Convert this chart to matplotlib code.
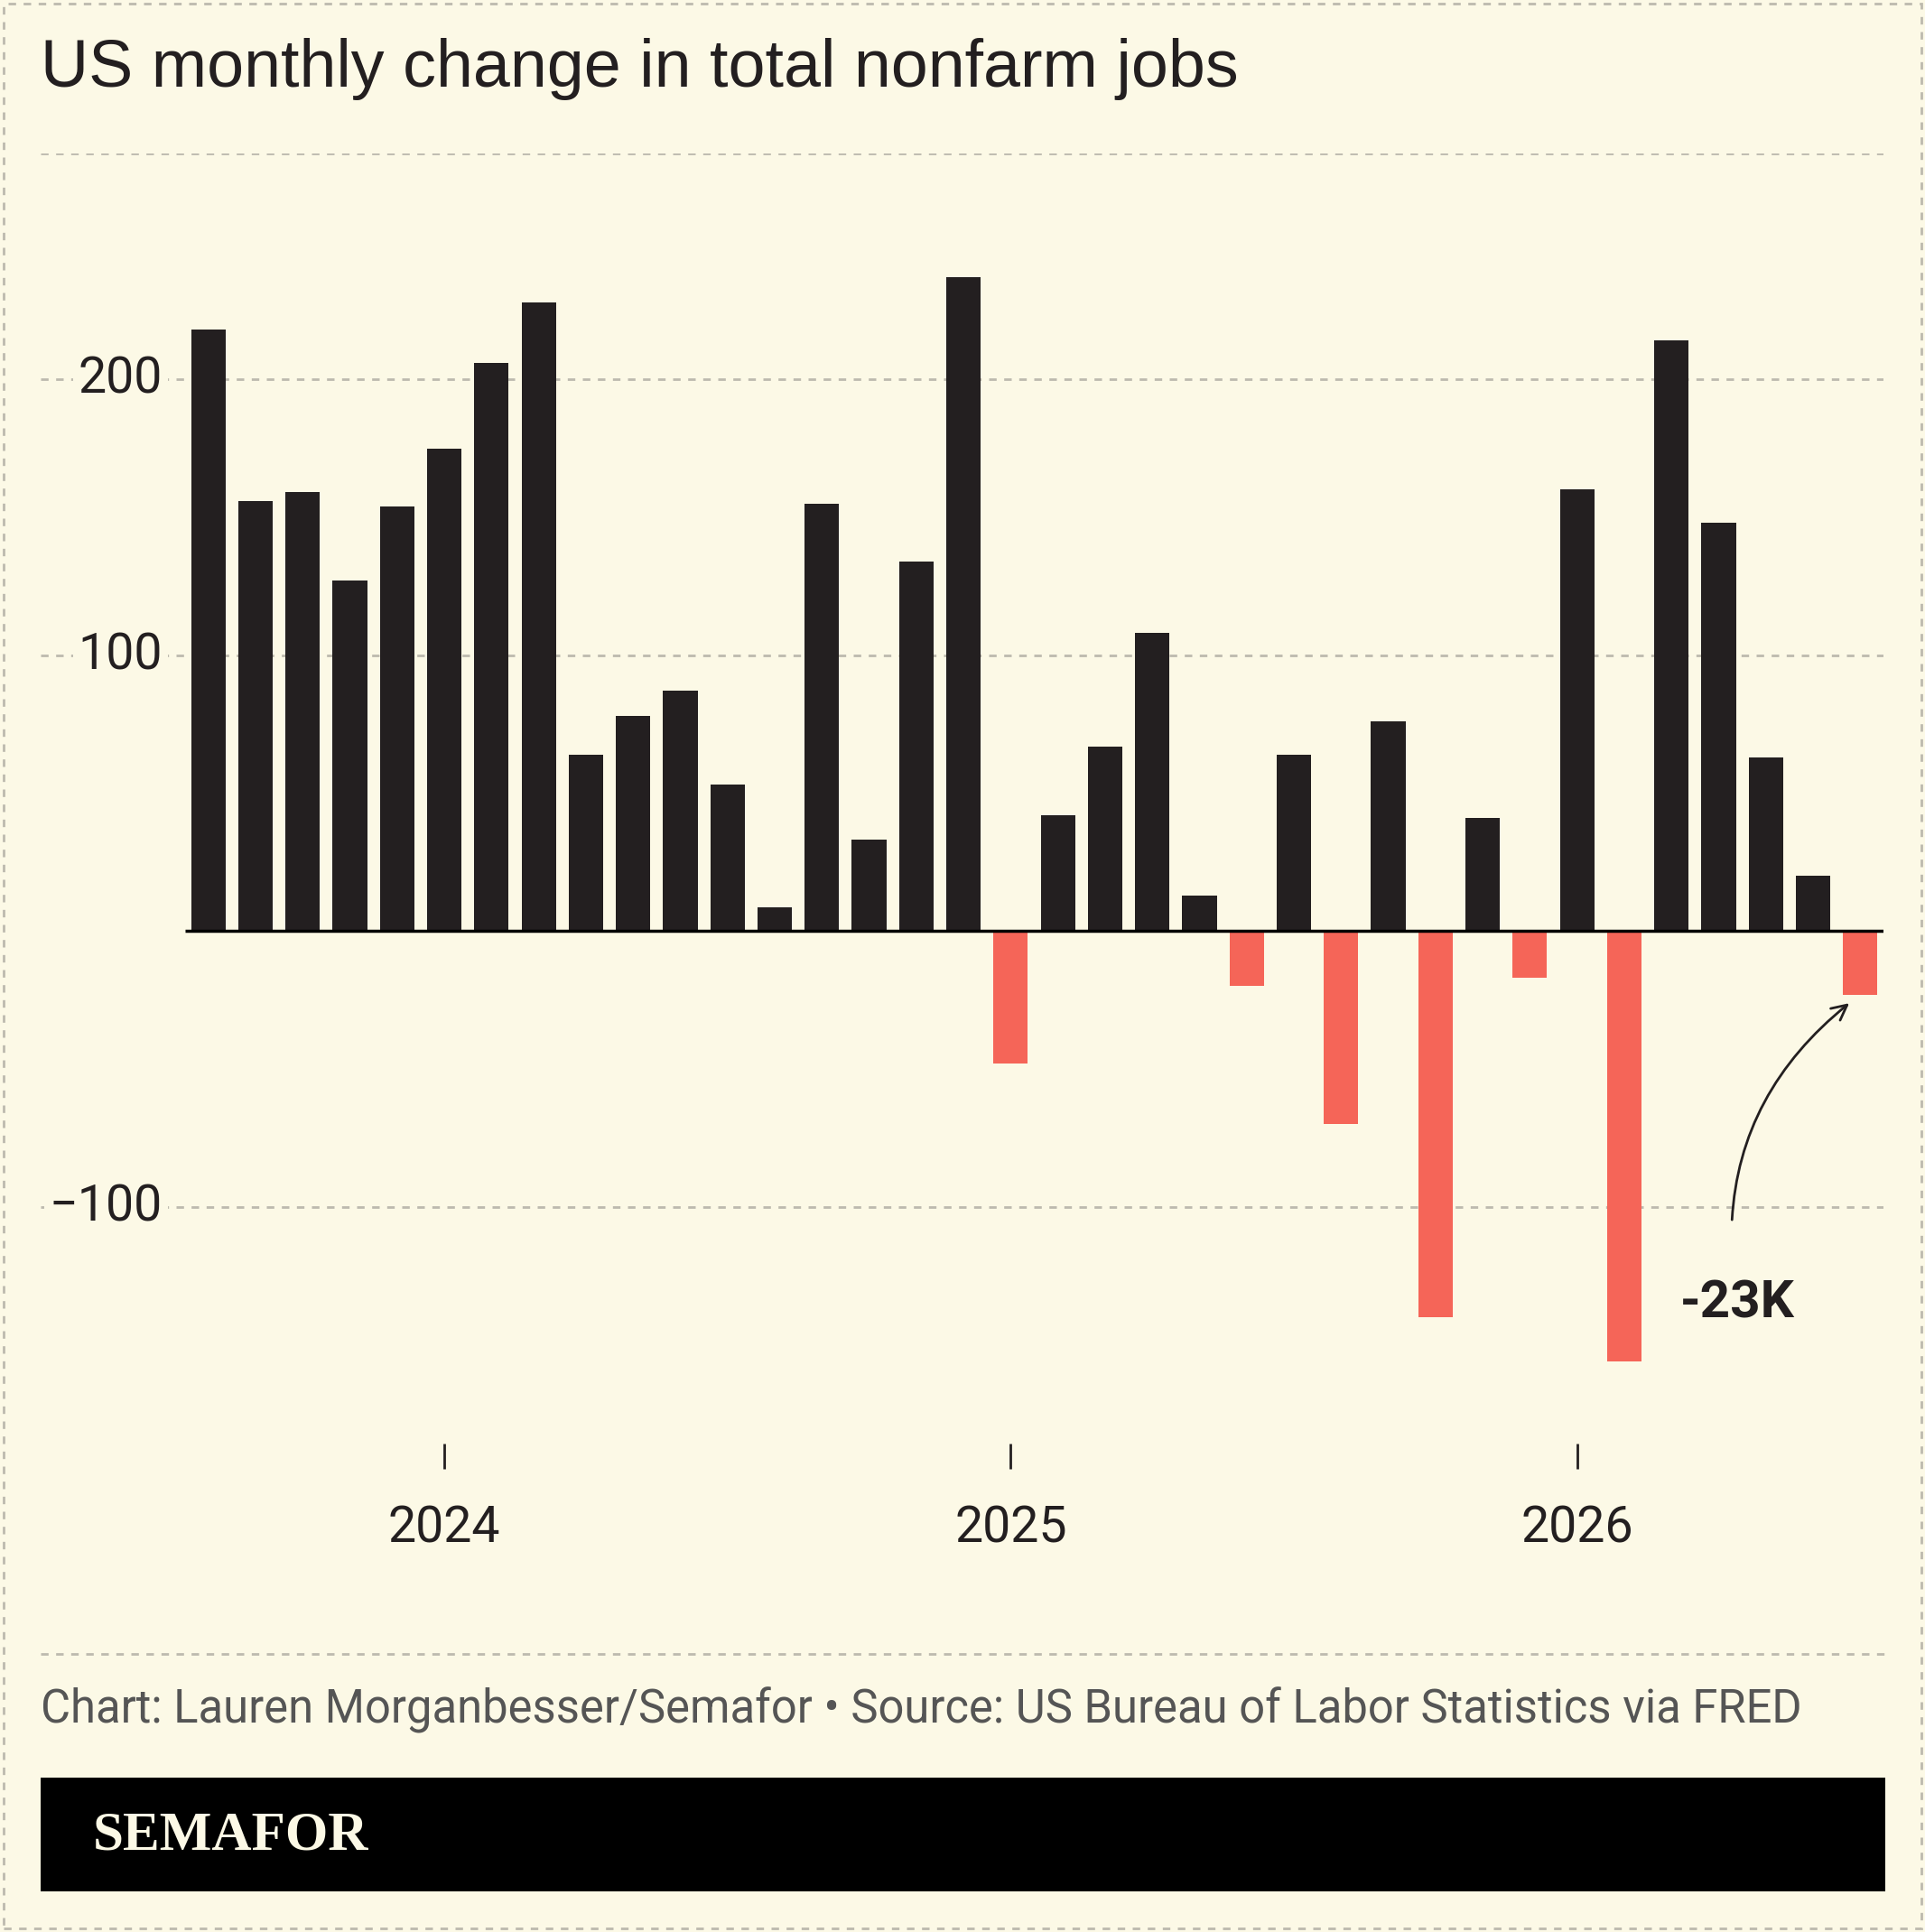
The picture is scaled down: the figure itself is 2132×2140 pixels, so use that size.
import matplotlib
matplotlib.use("Agg")
import matplotlib.pyplot as plt
from matplotlib.patches import Rectangle

months = ["2023-08","2023-09","2023-10","2023-11","2023-12","2024-01","2024-02","2024-03","2024-04","2024-05","2024-06","2024-07",
          "2024-08","2024-09","2024-10","2024-11","2024-12","2025-01","2025-02","2025-03","2025-04","2025-05","2025-06","2025-07",
          "2025-08","2025-09","2025-10","2025-11","2025-12","2026-01","2026-02","2026-03","2026-04","2026-05","2026-06","2026-07"]
values = [218,156,159,127,154,175,206,228,64,78,87,53,8.5,155,33,134,237,-48,42,67,108,13,-20,64,-70,76,-140,41,-17,160,-156,214,148,63,20,-23]
year_labels = ["2024","2025","2026"]
year_idx = [months.index(y + "-01") for y in year_labels]
ytick_vals = [200, 100, -100]

BG = "#FCF9E6"; DARK = "#231F20"; RED = "#F56558"; GRID = "#BDBAAE"
W, H = 1562, 1565
fig = plt.figure(figsize=(21.32, 21.40), dpi=100, facecolor=BG)
def fx(px): return px / W
def fy(py): return 1 - py / H

ax = fig.add_axes([fx(33), fy(1190), fx(1528) - fx(33), fy(124) - fy(1190)])
ax.set_facecolor(BG)
step = 38.3
ax.set_xlim((33 - 169) / step, (1528 - 169) / step)
ax.set_ylim(-195, 282)
for s in ax.spines.values():
    s.set_visible(False)

for v in ytick_vals + [282]:
    ax.axhline(v, color=GRID, lw=2, ls=(0, (3, 3)), zorder=0)
for v in ytick_vals:
    ax.text((132 - 169) / step, v, "−100" if v < 0 else str(v), ha="right", va="center",
            fontsize=40, family="Roboto", color=DARK,
            bbox=dict(facecolor=BG, edgecolor="none", pad=4), zorder=1)

x = list(range(len(values)))
colors = [DARK if v >= 0 else RED for v in values]
ax.bar(x, values, width=0.73, color=colors, zorder=2)
ax.hlines(0, (150 - 169) / step, (1528 - 169) / step, color="black", lw=2.5, zorder=3)

ax.set_yticks([])
ax.set_xticks(year_idx)
ax.set_xticklabels(year_labels, fontsize=40, family="Roboto", color=DARK)
ax.tick_params(axis="x", direction="in", length=20, width=2, color=DARK, pad=28)

ax.annotate("-23K", xy=(34.85, -25), xytext=(32.4, -135), fontsize=42, fontweight="bold",
            family="Roboto", color=DARK, ha="center", va="center", zorder=4,
            arrowprops=dict(arrowstyle="->", color=DARK, lw=2, mutation_scale=30,
                            connectionstyle="arc3,rad=-0.3", shrinkA=45, shrinkB=4))

fig.text(fx(33), fy(56), "US monthly change in total nonfarm jobs", fontsize=53,
         family="Liberation Sans", color=DARK, va="center")
fig.add_artist(plt.Line2D([fx(33), fx(1530)], [fy(1340)] * 2, color=GRID, lw=2, ls=(0, (3, 3))))
fig.text(fx(33), fy(1385), "Chart: Lauren Morganbesser/Semafor • Source: US Bureau of Labor Statistics via FRED",
         fontsize=36.5, family="Roboto", color="#555555", va="center")
fig.add_artist(Rectangle((fx(33), fy(1532)), fx(1530) - fx(33), fy(1440) - fy(1532),
                         transform=fig.transFigure, facecolor="black", edgecolor="none"))
fig.text(fx(75), fy(1487), "SEMAFOR", fontsize=44, family="Liberation Serif", fontweight="bold",
         color=BG, va="center")
fig.add_artist(Rectangle((0.002, 0.002), 0.996, 0.996, transform=fig.transFigure, fill=False,
                         edgecolor=GRID, lw=2, ls=(0, (3, 3))))
fig.savefig("out.png", dpi=100, facecolor=BG)
